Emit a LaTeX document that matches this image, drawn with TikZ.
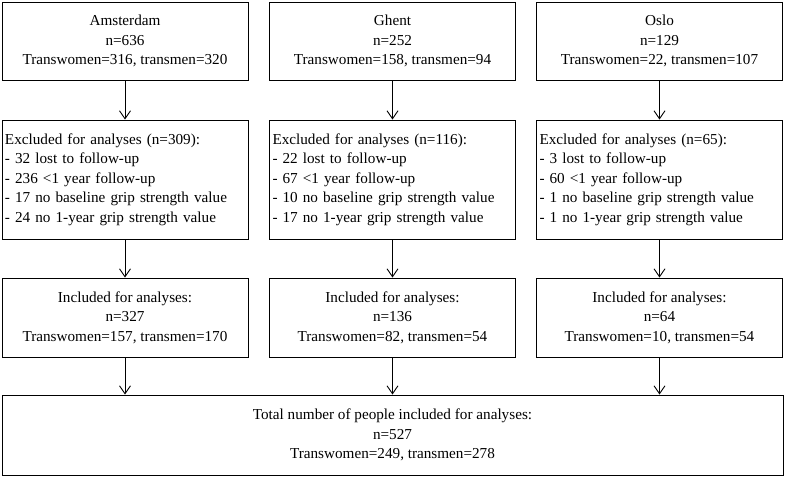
\documentclass[tikz,border=0pt]{standalone}
\usepackage{fontspec}
\setmainfont{Liberation Serif}
\usetikzlibrary{arrows.meta}

\tikzset{
    cbox/.style={draw, line width=0.9pt, align=center, minimum width=246pt, inner sep=2pt},
    lbox/.style={draw, line width=0.9pt, align=left, text width=240pt, inner xsep=3pt, inner ysep=2pt, minimum height=119pt},
    flow/.style={line width=0.9pt, -{Straight Barb[length=8pt,width=11pt]}}
}

\begin{document}
\begin{tikzpicture}[x=1pt,y=-1pt,font=\fontsize{15.2}{19.5}\selectfont]
    \useasboundingbox (0,0) rectangle (787,478);

    %% cohorts
    \node[cbox, minimum height=78pt] (ams) at (125,41) {Amsterdam\\n=636\\Transwomen=316, transmen=320};
    \node[cbox, minimum height=78pt] (ghe) at (392.5,41) {Ghent\\n=252\\Transwomen=158, transmen=94};
    \node[cbox, minimum height=78pt] (osl) at (659.5,41) {Oslo\\n=129\\Transwomen=22, transmen=107};

    %% excluded
    \node[lbox] (amsex) at (125,179.5) {Excluded for analyses (n=309):\\- 32 lost to follow-up\\- 236 <1 year follow-up\\- 17 no baseline grip strength value\\- 24 no 1-year grip strength value};
    \node[lbox] (gheex) at (392.5,179.5) {Excluded for analyses (n=116):\\- 22 lost to follow-up\\- 67 <1 year follow-up\\- 10 no baseline grip strength value\\- 17 no 1-year grip strength value};
    \node[lbox] (oslex) at (659.5,179.5) {Excluded for analyses (n=65):\\- 3 lost to follow-up\\- 60 <1 year follow-up\\- 1 no baseline grip strength value\\- 1 no 1-year grip strength value};

    %% included
    \node[cbox, minimum height=79pt] (amsin) at (125,317.5) {Included for analyses:\\n=327\\Transwomen=157, transmen=170};
    \node[cbox, minimum height=79pt] (ghein) at (392.5,317.5) {Included for analyses:\\n=136\\Transwomen=82, transmen=54};
    \node[cbox, minimum height=79pt] (oslin) at (659.5,317.5) {Included for analyses:\\n=64\\Transwomen=10, transmen=54};

    %% total
    \node[cbox, minimum width=781pt, minimum height=80pt] (total) at (392.5,435) {Total number of people included for analyses:\\n=527\\Transwomen=249, transmen=278};

    % arrows
    \foreach \c in {ams,ghe,osl} {
        \draw[flow] (\c) -- (\c ex);
        \draw[flow] (\c ex) -- (\c in);
        \draw[flow] (\c in) -- (total.north -| \c in);
    }
\end{tikzpicture}
\end{document}
